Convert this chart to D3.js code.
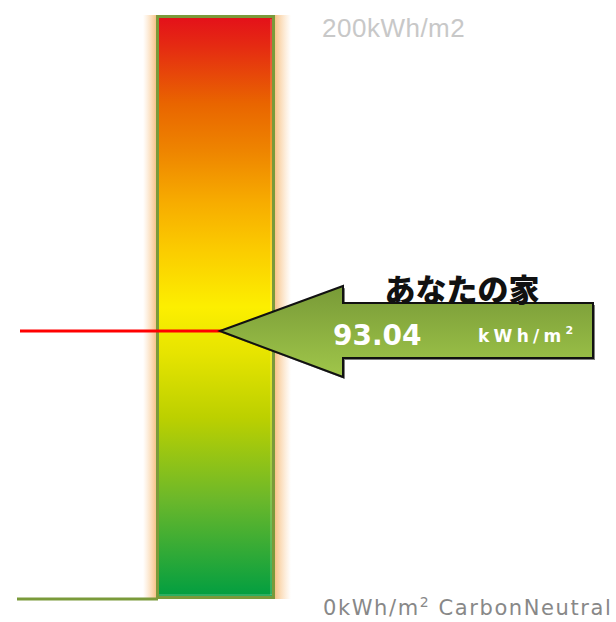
<!DOCTYPE html>
<html><head><meta charset="utf-8">
<script src="https://cdn.jsdelivr.net/npm/d3@7"></script>
<style>body{margin:0;background:#fff;}svg{display:block;}</style>
</head><body>
<script>
const scaleDomain = [0, 200];
const scaleLabels = ["0kWh/m", "200kWh/m2"];
const houseLabel = ["あなたの家"];
const houseValue = [93.04];
const gradientStops = [
  {offset: 0, color: "#e4101a"},
  {offset: 0.05, color: "#e52a12"},
  {offset: 0.15, color: "#e96500"},
  {offset: 0.23, color: "#ee8400"},
  {offset: 0.32, color: "#f7ac00"},
  {offset: 0.40, color: "#fbcb00"},
  {offset: 0.50, color: "#fcef00"},
  {offset: 0.58, color: "#e6e400"},
  {offset: 0.69, color: "#bcd000"},
  {offset: 0.83, color: "#6cb82a"},
  {offset: 1, color: "#009e41"}
];

const W = 616, H = 622;
const svg = d3.select("body").append("svg").attr("width", W).attr("height", H);
const defs = svg.append("defs");

const y = d3.scaleLinear().domain(scaleDomain).range([599, 23]);
const barX0 = 156, barX1 = 275, barTop = 15, barBot = 599;

const g1 = defs.append("linearGradient").attr("id", "barGrad").attr("x1", 0).attr("y1", 0).attr("x2", 0).attr("y2", 1);
gradientStops.forEach(s => g1.append("stop").attr("offset", s.offset).attr("stop-color", s.color));

const gl = defs.append("linearGradient").attr("id", "glowL").attr("x1", 0).attr("x2", 1);
gl.append("stop").attr("offset", 0).attr("stop-color", "#fbd3a3").attr("stop-opacity", 0);
gl.append("stop").attr("offset", 1).attr("stop-color", "#f7c48a").attr("stop-opacity", 1);
const gr = defs.append("linearGradient").attr("id", "glowR").attr("x1", 0).attr("x2", 1);
gr.append("stop").attr("offset", 0).attr("stop-color", "#f7c48a").attr("stop-opacity", 1);
gr.append("stop").attr("offset", 1).attr("stop-color", "#fbd3a3").attr("stop-opacity", 0);

const ga = defs.append("linearGradient").attr("id", "arrowGrad").attr("x1", 0).attr("y1", 0).attr("x2", 0).attr("y2", 1);
ga.append("stop").attr("offset", 0).attr("stop-color", "#789a37");
ga.append("stop").attr("offset", 1).attr("stop-color", "#a0c64a");

svg.append("rect").attr("x", barX0 - 13).attr("y", barTop).attr("width", 13).attr("height", barBot - barTop).attr("fill", "url(#glowL)");
svg.append("rect").attr("x", barX1).attr("y", barTop).attr("width", 16).attr("height", barBot - barTop).attr("fill", "url(#glowR)");

svg.append("rect").attr("x", barX0 + 1.5).attr("y", barTop + 1.5).attr("width", barX1 - barX0 - 3).attr("height", barBot - barTop - 3)
  .attr("fill", "url(#barGrad)").attr("stroke", "#7a9a3a").attr("stroke-width", 3);
svg.append("line").attr("x1", barX1 - 4).attr("x2", barX1 - 4).attr("y1", barTop + 4).attr("y2", barBot - 4)
  .attr("stroke", "#ffffff").attr("stroke-opacity", 0.35).attr("stroke-width", 1);
svg.append("line").attr("x1", barX0 + 3).attr("x2", barX1 - 3).attr("y1", barBot - 4).attr("y2", barBot - 4)
  .attr("stroke", "#ffffff").attr("stroke-opacity", 0.35).attr("stroke-width", 1);

svg.append("line").attr("x1", 17).attr("x2", barX0 + 2).attr("y1", y(0)).attr("y2", y(0))
  .attr("stroke", "#7a9a3a").attr("stroke-width", 3);

const vy = y(houseValue[0]);
svg.append("line").attr("x1", 20).attr("x2", 222).attr("y1", vy).attr("y2", vy)
  .attr("stroke", "#ff0000").attr("stroke-width", 3);

const tipX = 220, headX = 343, endX = 593;
const arrowPts = [[tipX, vy], [headX, vy - 45], [headX, vy - 28], [endX, vy - 28], [endX, vy + 27], [headX, vy + 27], [headX, vy + 46]];
const lineGen = d3.line();
svg.append("path").attr("d", lineGen(arrowPts) + "Z").attr("transform", "translate(2,2)")
  .attr("fill", "#000").attr("opacity", 0.5);
svg.append("path").attr("d", lineGen(arrowPts) + "Z")
  .attr("fill", "url(#arrowGrad)").attr("stroke", "#111").attr("stroke-width", 2).attr("stroke-linejoin", "miter");

svg.append("text").attr("x", 462).attr("y", vy - 30).attr("text-anchor", "middle")
  .attr("font-family", "Noto Sans CJK JP").attr("font-weight", 900).attr("font-size", 31).attr("fill", "#111")
  .text(houseLabel[0]);
svg.append("text").attr("x", 333).attr("y", vy + 14).attr("font-family", "DejaVu Sans")
  .attr("font-weight", "bold").attr("font-size", 28).attr("fill", "#fff").text(d3.format(".2f")(houseValue[0]));
const unit = svg.append("text").attr("x", 478).attr("y", vy + 11).attr("font-family", "DejaVu Sans")
  .attr("font-weight", "bold").attr("font-size", 17).attr("fill", "#fff").attr("letter-spacing", 4.3);
unit.append("tspan").text("kWh/m");
unit.append("tspan").attr("dy", -8).attr("font-size", 11).attr("letter-spacing", 0).text("2");

svg.append("text").attr("x", 322).attr("y", 37).attr("font-family", "Liberation Sans, Arial")
  .attr("font-size", 26).attr("fill", "#c8c8c8").attr("letter-spacing", 0.5).text(scaleLabels[1]);
const bl = svg.append("text").attr("x", 323).attr("y", 615).attr("font-family", "DejaVu Sans")
  .attr("font-size", 21).attr("fill", "#888").attr("letter-spacing", 1.6);
bl.append("tspan").text(scaleLabels[0]);
bl.append("tspan").attr("dy", -8).attr("font-size", 14).text("2");
bl.append("tspan").attr("dy", 8).text(" CarbonNeutral");
</script>
</body></html>
